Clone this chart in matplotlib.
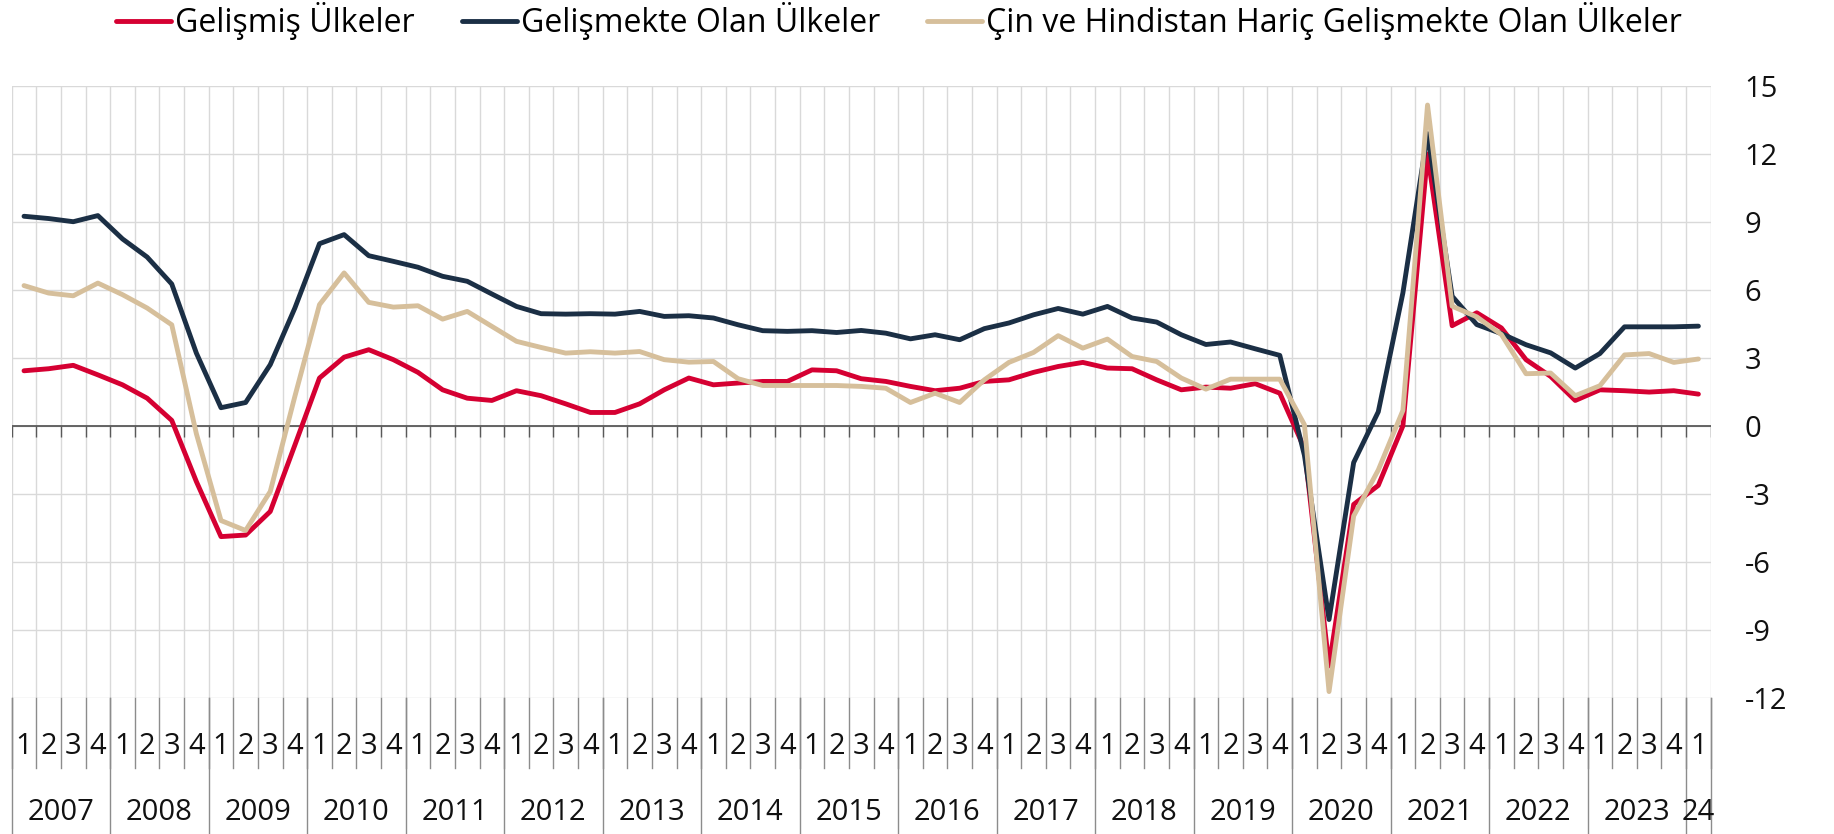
import numpy as np
import matplotlib
matplotlib.use("Agg")
import matplotlib.pyplot as plt
from matplotlib.lines import Line2D
import matplotlib.transforms as mtransforms

plt.rcParams['font.family'] = ['Open Sans', 'DejaVu Sans']

# ---- data -------------------------------------------------------------
years = ['2007', '2008', '2009', '2010', '2011', '2012', '2013', '2014', '2015',
         '2016', '2017', '2018', '2019', '2020', '2021', '2022', '2023', '24']
quarters_per_year = [4] * 17 + [1]
quarter_labels = [str(q + 1) for n in quarters_per_year for q in range(n)]

series_names = ['Gelişmiş Ülkeler',
                'Gelişmekte Olan Ülkeler',
                'Çin ve Hindistan Hariç Gelişmekte Olan Ülkeler']

gelismis = [2.43, 2.52, 2.67, 2.25, 1.81, 1.22, 0.24, -2.46, -4.89, -4.82, -3.78, -0.85,
            2.11, 3.03, 3.36, 2.92, 2.36, 1.59, 1.22, 1.12, 1.55, 1.33, 0.97, 0.59,
            0.59, 0.97, 1.59, 2.11, 1.81, 1.89, 1.96, 1.96, 2.47, 2.43, 2.08, 1.96,
            1.74, 1.55, 1.66, 1.96, 2.03, 2.36, 2.62, 2.80, 2.55, 2.52, 2.03, 1.59,
            1.71, 1.66, 1.86, 1.44, -1.0, -10.6, -3.47, -2.63, 0.0, 12.0, 4.42, 4.99,
            4.32, 2.92, 2.18, 1.12, 1.59, 1.55, 1.49, 1.55, 1.40]

gelismekte = [9.25, 9.15, 9.01, 9.28, 8.25, 7.45, 6.26, 3.21, 0.80, 1.03, 2.70, 5.20,
              8.04, 8.44, 7.51, 7.26, 7.00, 6.60, 6.38, 5.82, 5.27, 4.95, 4.93, 4.95,
              4.93, 5.05, 4.83, 4.86, 4.76, 4.46, 4.20, 4.17, 4.20, 4.12, 4.21, 4.09,
              3.84, 4.02, 3.80, 4.29, 4.54, 4.90, 5.18, 4.93, 5.27, 4.76, 4.58, 4.02,
              3.59, 3.70, 3.40, 3.11, -1.3, -8.55, -1.62, 0.62, 5.87, 12.9, 5.72, 4.47,
              4.07, 3.58, 3.22, 2.55, 3.19, 4.37, 4.37, 4.37, 4.40]

cin_hindistan_haric = [6.19, 5.86, 5.74, 6.30, 5.79, 5.20, 4.46, -0.35, -4.18, -4.62, -2.90, 1.3,
                       5.35, 6.75, 5.45, 5.24, 5.30, 4.71, 5.05, 4.39, 3.73, 3.46, 3.21, 3.27,
                       3.21, 3.28, 2.92, 2.81, 2.84, 2.08, 1.78, 1.78, 1.78, 1.78, 1.74, 1.66,
                       1.03, 1.44, 1.03, 2.03, 2.80, 3.24, 3.98, 3.43, 3.83, 3.06, 2.84, 2.11,
                       1.62, 2.06, 2.06, 2.06, 0.05, -11.73, -3.98, -1.95, 0.68, 14.16, 5.28, 4.81,
                       4.03, 2.30, 2.33, 1.33, 1.77, 3.13, 3.19, 2.80, 2.95]

y_ticks = [15, 12, 9, 6, 3, 0, -3, -6, -9, -12]
y_tick_labels = ['15', '12', '9', '6', '3', '0', '-3', '-6', '-9', '-12']

# ---- styling ----------------------------------------------------------
colors = ['#D50032', '#1B2F45', '#D6BF9B']
grid_color = '#D9D9D9'
sep_color = '#8C8C8C'
FS = 21
LEG_FS = 23

W, H = 1834, 834
fig = plt.figure(figsize=(W / 100, H / 100), dpi=100)
left_px, right_px, top_px, bottom_px = 11.7, 1710.7, 86.0, 697.7
ax = fig.add_axes([left_px / W, 1 - bottom_px / H,
                   (right_px - left_px) / W, (bottom_px - top_px) / H])

n = len(quarter_labels)
x = np.arange(n)

for vals, c in zip([gelismis, gelismekte, cin_hindistan_haric], colors):
    ax.plot(x, vals, color=c, lw=3.5, solid_capstyle='round', solid_joinstyle='round', zorder=3)

ax.set_xlim(-0.5, n - 0.5)
ax.set_ylim(-12, 15)

# grid
bounds = np.arange(-0.5, n, 1.0)
ax.set_xticks(bounds, minor=True)
ax.set_xticks([])
ax.grid(which='minor', axis='x', color=grid_color, lw=1.0, zorder=0)
ax.set_yticks(y_ticks)
ax.set_yticklabels(y_tick_labels)
ax.grid(which='major', axis='y', color=grid_color, lw=1.0, zorder=0)
ax.yaxis.tick_right()
ax.tick_params(axis='y', length=0, pad=24.5, labelsize=FS, labelcolor='#111111')
ax.tick_params(axis='x', which='both', length=0)
for s in ax.spines.values():
    s.set_visible(False)

# zero line with small ticks
ax.axhline(0, color='#595959', lw=1.3, zorder=2)
zero_tick = 11 / ((bottom_px - top_px) / 27)
ax.vlines(bounds, -zero_tick, 0, color='#595959', lw=1.0, zorder=2)

# category labels below the plot
trans = mtransforms.blended_transform_factory(ax.transData, ax.transAxes)
ax_h = bottom_px - top_px
q_sep_bottom = -(767.7 - bottom_px) / ax_h
y_sep_bottom = -(H - bottom_px) / ax_h
q_label_y = -(746 - bottom_px) / ax_h
y_label_y = -(813 - bottom_px) / ax_h

for b in bounds:
    ax.add_line(Line2D([b, b], [0, q_sep_bottom], transform=trans, color=sep_color,
                       lw=1.0, clip_on=False))
for i, lab in enumerate(quarter_labels):
    ax.text(i, q_label_y, lab, transform=trans, ha='center', va='center',
            fontsize=FS, color='#111111')

start = 0
for yr, nq in zip(years, quarters_per_year):
    ax.add_line(Line2D([start - 0.5, start - 0.5], [0, y_sep_bottom], transform=trans,
                       color=sep_color, lw=1.0, clip_on=False))
    ax.text(start + (nq - 1) / 2, y_label_y, yr, transform=trans, ha='center',
            va='center', fontsize=FS, color='#111111')
    start += nq
ax.add_line(Line2D([start - 0.5, start - 0.5], [0, y_sep_bottom], transform=trans,
                   color=sep_color, lw=1.0, clip_on=False))

# legend
handles = [Line2D([0], [0], color=c, lw=3.5, solid_capstyle='round') for c in colors]
fig.legend(handles, series_names, loc='center', bbox_to_anchor=(899 / W, 1 - 21 / H),
           ncol=3, frameon=False, fontsize=LEG_FS, handlelength=1.72, handletextpad=0.12,
           columnspacing=1.47, borderpad=0)

fig.savefig('out.png', dpi=100)
